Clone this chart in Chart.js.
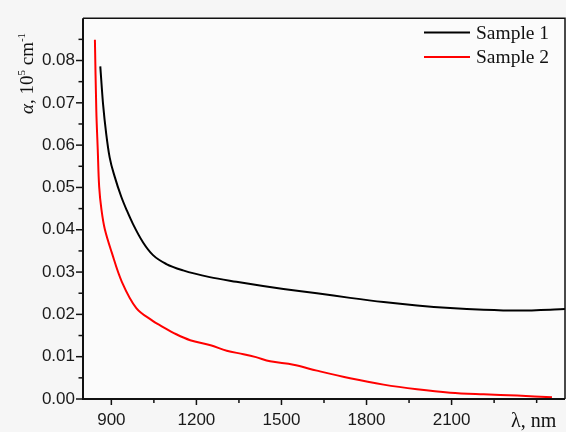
<!DOCTYPE html>
<html>
<head>
<meta charset="utf-8">
<script src="https://cdn.jsdelivr.net/npm/chart.js@4/dist/chart.umd.min.js"></script>
<style>
  html, body { margin: 0; padding: 0; background: #f6f6f6; }
</style>
</head>
<body>
<canvas id="chart" width="566" height="432"></canvas>
<script>
// values
const seriesNames = ["Sample 1", "Sample 2"];
const seriesColors = ["#000000", "#ff0000"];

const wavelength1 = [861, 871, 882, 894, 912, 935, 955, 976, 1012, 1047, 1094, 1153, 1247, 1341, 1435, 1507, 1625, 1742, 1860, 1978, 2095, 2213, 2331, 2448, 2500];
const alpha1 = [0.0786, 0.0695, 0.0626, 0.0571, 0.0525, 0.0478, 0.0445, 0.0414, 0.0370, 0.0340, 0.0319, 0.0304, 0.0288, 0.0277, 0.0267, 0.0260, 0.0250, 0.0239, 0.0229, 0.0221, 0.0215, 0.0211, 0.0209, 0.0211, 0.0213];

const wavelength2 = [842, 847, 852, 857, 865, 877, 901, 937, 988, 1047, 1072, 1129, 1178, 1250, 1307, 1366, 1410, 1460, 1542, 1625, 1742, 1860, 1978, 2095, 2213, 2331, 2454];
const alpha2 = [0.0849, 0.0680, 0.0590, 0.0502, 0.0448, 0.0401, 0.0347, 0.0277, 0.0215, 0.0184, 0.0174, 0.0153, 0.0139, 0.0127, 0.0114, 0.0106, 0.0099, 0.0089, 0.0081, 0.0067, 0.0049, 0.0034, 0.0023, 0.0015, 0.0011, 0.0008, 0.0004];

const xTicks = [900, 1050, 1200, 1350, 1500, 1650, 1800, 1950, 2100, 2250, 2400];
const xLabels = [900, 1200, 1500, 1800, 2100];
const yTicks = [0, 0.005, 0.01, 0.015, 0.02, 0.025, 0.03, 0.035, 0.04, 0.045, 0.05, 0.055, 0.06, 0.065, 0.07, 0.075, 0.08, 0.085];
const yLabels = [0, 0.01, 0.02, 0.03, 0.04, 0.05, 0.06, 0.07, 0.08];

const toPoints = (xs, ys) => xs.map((x, i) => ({ x: x, y: ys[i] }));
const hasLabel = (list, v) => list.some((l) => Math.abs(l - v) < 1e-9);

const serif = '"Liberation Serif", "Times New Roman", serif';
const sans = '"Liberation Sans", Arial, sans-serif';

const decorPlugin = {
    id: "decor",
    beforeDraw(chart) {
        const { ctx, chartArea: a } = chart;
        ctx.save();
        ctx.fillStyle = "#f6f6f6";
        ctx.fillRect(0, 0, chart.width, chart.height);
        ctx.fillStyle = "#fbfbfb";
        ctx.fillRect(a.left, a.top, a.right - a.left, a.bottom - a.top);
        ctx.restore();
    },
    afterDraw(chart) {
        const { ctx, chartArea: a, scales } = chart;
        ctx.save();

        // frame
        ctx.strokeStyle = "#111";
        ctx.lineWidth = 1.5;
        ctx.beginPath();
        ctx.moveTo(a.left, a.top);
        ctx.lineTo(a.right, a.top);
        ctx.lineTo(a.right, a.bottom);
        ctx.stroke();
        ctx.lineWidth = 2;
        ctx.beginPath();
        ctx.moveTo(a.left, a.top);
        ctx.lineTo(a.left, a.bottom);
        ctx.lineTo(a.right, a.bottom);
        ctx.stroke();

        // tick marks, longer where a label sits
        ctx.lineWidth = 1.5;
        scales.x.ticks.forEach((t) => {
            const px = scales.x.getPixelForValue(t.value);
            const len = hasLabel(xLabels, t.value) ? 6 : 4;
            ctx.beginPath();
            ctx.moveTo(px, a.bottom);
            ctx.lineTo(px, a.bottom + len);
            ctx.stroke();
        });
        scales.y.ticks.forEach((t) => {
            const py = scales.y.getPixelForValue(t.value);
            const len = hasLabel(yLabels, t.value) ? 7 : 4.5;
            ctx.beginPath();
            ctx.moveTo(a.left, py);
            ctx.lineTo(a.left - len, py);
            ctx.stroke();
        });

        // legend
        chart.data.datasets.forEach((ds, i) => {
            const y = 32.5 + i * 24.5;
            ctx.strokeStyle = ds.borderColor;
            ctx.lineWidth = 2;
            ctx.beginPath();
            ctx.moveTo(424, y);
            ctx.lineTo(470, y);
            ctx.stroke();
            ctx.fillStyle = "#111";
            ctx.font = "19.5px " + serif;
            ctx.textBaseline = "middle";
            ctx.textAlign = "left";
            ctx.fillText(ds.label, 476, y + 1);
        });

        // x axis title
        ctx.fillStyle = "#111";
        ctx.font = "20px " + serif;
        ctx.textBaseline = "alphabetic";
        ctx.textAlign = "left";
        ctx.fillText("λ, nm", 511, 427);

        // y axis title, rotated, with superscripts
        ctx.translate(33, 114);
        ctx.rotate(-Math.PI / 2);
        let x = 0;
        const part = (text, font, dy) => {
            ctx.font = font;
            ctx.fillText(text, x, dy);
            x += ctx.measureText(text).width;
        };
        part("α", "italic 19px " + serif, 0);
        part(", 10", "19px " + serif, 0);
        part("5", "11px " + serif, -8);
        part(" cm", "19px " + serif, 0);
        part("-1", "11px " + serif, -8);

        ctx.restore();
    },
};

const ctx = document.getElementById("chart");

const chart = new Chart(ctx, {
    type: "line",
    data: {
        datasets: [
            {
                label: seriesNames[0],
                data: toPoints(wavelength1, alpha1),
                borderColor: seriesColors[0],
                borderWidth: 2,
                pointRadius: 0,
                cubicInterpolationMode: "monotone",
            },
            {
                label: seriesNames[1],
                data: toPoints(wavelength2, alpha2),
                borderColor: seriesColors[1],
                borderWidth: 2,
                pointRadius: 0,
                tension: 0.35,
            },
        ],
    },
    options: {
        responsive: false,
        animation: false,
        devicePixelRatio: 1,
        layout: { padding: { top: 12, right: 1, left: 0, bottom: 0 } },
        plugins: {
            legend: { display: false },
            tooltip: { enabled: false },
        },
        scales: {
            x: {
                type: "linear",
                min: 800,
                max: 2500,
                grid: { display: false, drawTicks: false },
                border: { display: false },
                afterBuildTicks: (scale) => {
                    scale.ticks = xTicks.map((v) => ({ value: v }));
                },
                afterFit: (scale) => {
                    scale.height = 33;
                },
                ticks: {
                    autoSkip: false,
                    maxRotation: 0,
                    padding: 11,
                    color: "#1a1a1a",
                    font: { family: sans, size: 17 },
                    callback: (v) => (hasLabel(xLabels, v) ? String(v) : ""),
                },
            },
            y: {
                min: 0,
                max: 0.09,
                grid: { display: false, drawTicks: false },
                border: { display: false },
                afterBuildTicks: (scale) => {
                    scale.ticks = yTicks.map((v) => ({ value: v }));
                },
                afterFit: (scale) => {
                    scale.width = 83;
                },
                ticks: {
                    autoSkip: false,
                    padding: 8,
                    color: "#1a1a1a",
                    font: { family: sans, size: 17 },
                    callback: (v) => (hasLabel(yLabels, v) ? v.toFixed(2) : ""),
                },
            },
        },
    },
    plugins: [decorPlugin],
});
</script>
</body>
</html>
